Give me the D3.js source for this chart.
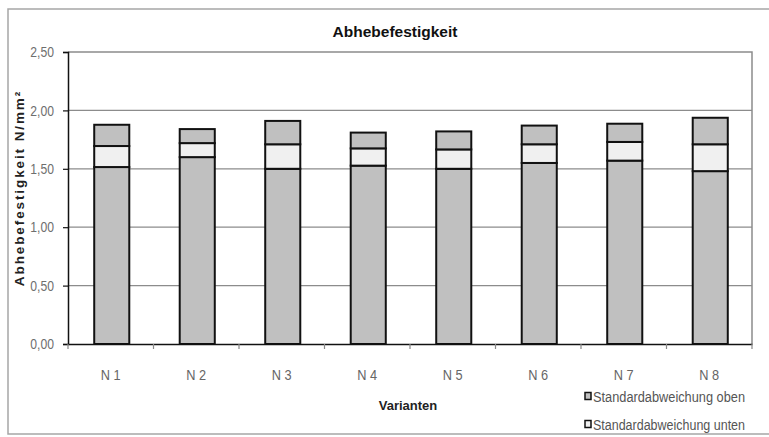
<!DOCTYPE html>
<html>
<head>
<meta charset="utf-8">
<script src="https://cdn.jsdelivr.net/npm/d3@7"></script>
<style>
  html, body { margin: 0; padding: 0; background: #fff; }
  svg { display: block; }
</style>
</head>
<body>
<svg id="chart" width="769" height="437"></svg>
<script>
// Varianten and their stacked values (N/mm²)
const varianten = ["N 1", "N 2", "N 3", "N 4", "N 5", "N 6", "N 7", "N 8"];
const basis = [1.515, 1.60, 1.50, 1.527, 1.50, 1.55, 1.57, 1.48];
const stdUnten = [0.18, 0.12, 0.21, 0.148, 0.166, 0.16, 0.16, 0.23];
const stdOben = [0.182, 0.12, 0.20, 0.135, 0.154, 0.16, 0.156, 0.227];
const yTicks = [0, 0.5, 1.0, 1.5, 2.0, 2.5];
const seriesNames = ["basis", "Standardabweichung unten", "Standardabweichung oben"];
const legendNames = ["Standardabweichung oben", "Standardabweichung unten"];

const svg = d3.select("#chart");
const font = "'Liberation Sans', Arial, sans-serif";
const fills = { "basis": "#c0c0c0", "Standardabweichung unten": "#f0f0f0", "Standardabweichung oben": "#c0c0c0" };

// Squeeze a text selection horizontally to imitate a narrow typeface
function condense(sel, factor) {
  sel.each(function () {
    const len = this.getComputedTextLength();
    d3.select(this).attr("textLength", len * factor).attr("lengthAdjust", "spacingAndGlyphs");
  });
}

// Outer chart frame
svg.append("rect")
  .attr("x", 8).attr("y", 9).attr("width", 775).attr("height", 425)
  .attr("fill", "#fff").attr("stroke", "#a6a6a6").attr("stroke-width", 1.5);

const plot = { left: 68, right: 752, top: 52, bottom: 344 };

const x = d3.scaleBand().domain(varianten).range([plot.left, plot.right]).padding(0);
const y = d3.scaleLinear().domain([0, 2.5]).range([plot.bottom, plot.top]);

// Gridlines
svg.append("g").selectAll("line")
  .data(yTicks.filter(t => t > 0 && t < 2.5))
  .join("line")
  .attr("x1", plot.left).attr("x2", plot.right)
  .attr("y1", d => y(d)).attr("y2", d => y(d))
  .attr("stroke", "#8c8c8c").attr("stroke-width", 1.2);

// Plot frame (top and right)
svg.append("path")
  .attr("d", `M${plot.left},${y(2.5)}H${plot.right}V${plot.bottom}`)
  .attr("fill", "none").attr("stroke", "#8c8c8c").attr("stroke-width", 1.5);

// Stacked bars
const rows = varianten.map((v, i) => ({
  variante: v,
  "basis": basis[i],
  "Standardabweichung unten": stdUnten[i],
  "Standardabweichung oben": stdOben[i]
}));
const stacked = d3.stack().keys(seriesNames)(rows);
const barW = x.bandwidth() * 0.41;

svg.append("g").selectAll("g")
  .data(stacked)
  .join("g")
  .attr("fill", d => fills[d.key])
  .selectAll("rect")
  .data(d => d)
  .join("rect")
  .attr("x", d => x(d.data.variante) + x.bandwidth() / 2 - barW / 2 + 1)
  .attr("width", barW)
  .attr("y", d => y(d[1]))
  .attr("height", d => y(d[0]) - y(d[1]))
  .attr("stroke", "#111")
  .attr("stroke-width", 2);

// Y axis
const yAxis = svg.append("g")
  .attr("transform", `translate(${plot.left},0)`)
  .call(d3.axisLeft(y).tickValues(yTicks).tickSize(5).tickPadding(9)
    .tickFormat(d => d3.format(".2f")(d).replace(".", ",")));
yAxis.select(".domain").attr("stroke", "#111").attr("stroke-width", 1.5);
yAxis.selectAll(".tick line").attr("stroke", "#111").attr("stroke-width", 1.2);
yAxis.selectAll("text").attr("font-family", font).attr("font-size", 14.5).attr("fill", "#6e6e6e")
  .call(condense, 0.84);

// X axis
const xAxis = svg.append("g")
  .attr("transform", `translate(0,${plot.bottom})`)
  .call(d3.axisBottom(x).tickSize(0).tickPadding(26));
xAxis.select(".domain").attr("stroke", "#111").attr("stroke-width", 1.5);
xAxis.selectAll("text").attr("font-family", font).attr("font-size", 14.5).attr("fill", "#666")
  .call(condense, 0.88);

// Category separator ticks below the x axis
svg.append("g").selectAll("line")
  .data(d3.range(varianten.length + 1))
  .join("line")
  .attr("x1", i => plot.left + i * x.step()).attr("x2", i => plot.left + i * x.step())
  .attr("y1", plot.bottom).attr("y2", plot.bottom + 5)
  .attr("stroke", "#888").attr("stroke-width", 1.2);

// Title
svg.append("text")
  .attr("x", 395).attr("y", 37)
  .attr("text-anchor", "middle")
  .attr("font-family", font).attr("font-weight", "bold").attr("font-size", 15.5)
  .attr("fill", "#111")
  .text("Abhebefestigkeit");

// Y axis title
svg.append("text")
  .attr("transform", "translate(24,188) rotate(-90)")
  .attr("text-anchor", "middle")
  .attr("font-family", font).attr("font-weight", "bold").attr("font-size", 13.5)
  .attr("letter-spacing", "1.9px")
  .attr("fill", "#222")
  .text("Abhebefestigkeit  N/mm²");

// X axis title
svg.append("text")
  .attr("x", 408).attr("y", 410)
  .attr("text-anchor", "middle")
  .attr("font-family", font).attr("font-weight", "bold").attr("font-size", 13)
  .attr("fill", "#222")
  .text("Varianten");

// Legend
const legend = svg.append("g").selectAll("g")
  .data(legendNames)
  .join("g")
  .attr("transform", (d, i) => `translate(585,${396 + i * 28})`);
legend.append("rect")
  .attr("x", 0).attr("y", -3.5).attr("width", 6).attr("height", 7)
  .attr("fill", d => fills[d]).attr("stroke", "#111").attr("stroke-width", 1.5);
legend.append("text")
  .attr("x", 8).attr("y", 5.5)
  .attr("font-family", font).attr("font-size", 14)
  .attr("fill", "#555")
  .attr("textLength", 152).attr("lengthAdjust", "spacingAndGlyphs")
  .text(d => d);
</script>
</body>
</html>
